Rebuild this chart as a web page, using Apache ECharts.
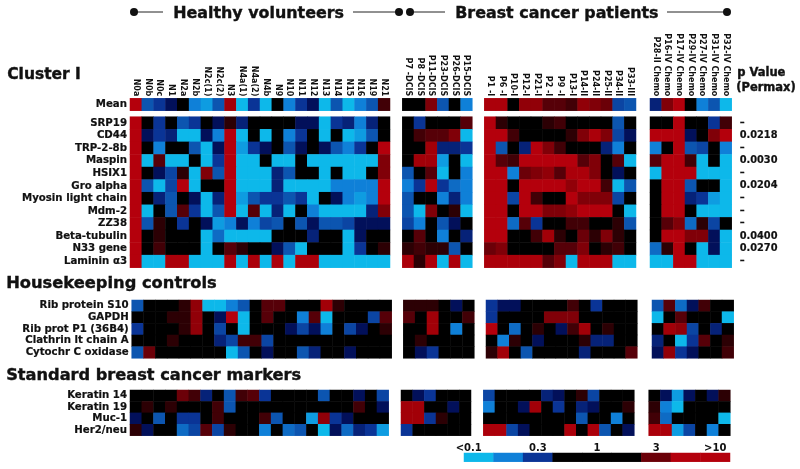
<!DOCTYPE html>
<html><head><meta charset="utf-8">
<style>html,body{margin:0;padding:0;background:#fff}#c{width:800px;height:469px}</style>
<script src="https://cdn.jsdelivr.net/npm/echarts@6/dist/echarts.min.js"></script>
</head><body><div id="c"></div>
<script>
// Colour level of every cell: -5 = <0.1 fold ... 0 = 1 fold ... +5 = >10 fold
const healthyCols = ['N0a','N0b','N0c','N1','N2a','N2b','N2c(1)','N2c(2)','N3','N4a(1)','N4a(2)','N4b','N9','N10','N11','N12','N13','N14','N15','N16','N19','N21'];
const dcisCols = ['P7 -DCIS','P8 -DCIS','P11-DCIS','P23-DCIS','P26-DCIS','P15-DCIS'];
const stageCols = ['P1 -I','P6 -I','P10-I','P12-I','P21-I','P2 -I','P9 -I','P13-I','P14-II','P24-II','P25-II','P34-II','P33-III'];
const chemoCols = ['P28-II Chemo','P16-IV Chemo','P17-IV Chemo','P29-IV Chemo','P27-IV Chemo','P31-IV Chemo','P32-IV Chemo'];

const meanRow = ['Mean'];
const clusterRows = ['SRP19','CD44','TRP-2-8b','Maspin','HSIX1','Gro alpha','Myosin light chain','Mdm-2','ZZ38','Beta-tubulin','N33 gene','Laminin α3'];
const housekeepingRows = ['Rib protein S10','GAPDH','Rib prot P1 (36B4)','Clathrin lt chain A','Cytochr C oxidase'];
const markerRows = ['Keratin 14','Keratin 19','Muc-1','Her2/neu'];
const pValues = ['–','0.0218','–','0.0030','–','0.0204','–','–','–','0.0400','0.0270','–'];

const meanHealthy = [[5,-3,-2,-1,0,-4,-4.5,-3,4,-5,-2,-5,0,-4,-2,-1,-5,-3,-5,-4,-3,1.5]];
const meanDcis = [[0,0,3,-3,0,-4]];
const meanStage = [[4.5,4.5,0,3.5,3.5,2,2,1.5,3.5,3,2.5,-2.5,-3]];
const meanChemo = [[-1.5,3,5,0,-4,-3,-5]];

const clusterHealthy = [
[5,0,-2,0,-3,-2,0,-1,1,-1.5,0,0,0,0,-1,-1,-5,-2,-1.5,-4,-1.5,0],
[5,-1,-2,-1.5,-5,-5,-1,-4,5,-5,0,-5,0,-4,-2,0,-5,0,-5,-4.5,-3,0],
[5,0,-4,0,0,-3,-5,-1,5,-4.5,-2,-1,0,-3,-1,0,-1,-3,-4,-2,0,5],
[5,-5,2,-5,-5,0,-5,-2,5,-5,-5,0,-5,-5,0,-5,-5,-5,-5,-5,-5,3],
[5,0,-1,-2.5,1,-5,3,-3,5,-5,-5,-5,-1.5,-3,0,0,-5,0,-5,-5,0,3],
[5,-3,-5,-2.5,5,-5,0,0,5,-5,-5,-5,-1.5,-5,-5,-5,-5,-4,-4,-4,-4,5],
[5,0,-1.5,-3,0,-1,-5,-1.5,5,-4.5,-3,-2,-2,-3,-2,-5,0,-1,-4,-4.5,-4,5],
[5,-5,0,-3,2,-2,-5,-3,5,-5,2,-5,-1.5,-5,0,-4,-5,-5,-5,-5,-1.5,3],
[5,-3,1,0,-2,0,-1,-4.5,-4,-1,-4,-2.5,-3,0,-3,-1,-3,-3,-2.5,-1,-1,-1],
[5,0,1,0,0,0,-5,-3.5,-5,-5,-5,-5,0,0,0,-1.5,0,0,-5,-1,0,0],
[5,0,1.5,0,0,0,-5,0,2,1,0,0,-1,-3,-5,0,0,0,-5,-2,0,1],
[5,-5,-5,4.5,4.5,-5,-5,-5,4.5,-5,4.5,-5,4.5,-5,4.5,4.5,-5,-5,-5,-5,-5,-5]];
const clusterDcis = [
[0,-2,0,0,0,2],
[0,1.5,2,2,3,-5],
[0,0,4,-1.5,-1.5,-2],
[0,4,4,-4.5,0,-5],
[-3,0,2,-5,0,-4],
[-4,-2,5,-2,-3.5,-4],
[-3,0,0,-4,-1.5,-4],
[-3,-5,3,0,1,-5],
[-2.5,-4,0,-3,-1,0],
[0,2,0,-4,0,-1.5],
[1,1.5,1,1,-3,0],
[4.5,1,4.5,-5,4.5,-5]];
const clusterStage = [
[5,1,0,0,0,1,1.5,0,0,0,0,-3,0],
[5,5,1.5,0,0,0,0,1,3,4.5,3,-2.5,-1],
[5,-3,0,-1.5,5,3,1.5,0,0,0,-1.5,-4,0],
[5,2,1.5,5,5,5,5,5,2,3,0,2,-5],
[5,5,-4,2.5,3,3.5,2,4.5,4.5,3,0,-1,0],
[5,5,0,5,5,5,5,3.5,5,5,1.5,-5,-3],
[5,5,-2.5,5,1.5,0,0,5,3,3,3,-2.5,0],
[5,5,0,5,5,3,3,3.5,5,5,5,0,-5],
[5,5,-3.5,2,-2,0,0,1.5,1.5,0,0,1,-3],
[5,5,0,0,1.5,4,1,0,2.5,1,3,1,0],
[2.5,3,0,0,0,0,2,2,3,0,1,1.5,0],
[4.5,4.5,4.5,4.5,4.5,2,3,-5,4.5,4.5,4.5,-5,-5]];
const clusterChemo = [
[0,0,5,0,0,-2,1.5],
[5,5,5,-1,0,3,5],
[-4,0,5,-3,-2.5,0,-4],
[2,5,5,1.5,-5,0,-5],
[-5,5,5,5,-5,-5,-5],
[0,5,5,-3,0,0,-5],
[0,5,5,-1.5,-2,-4.5,-5],
[0,5,5,0,-5,-5,-5],
[0,2,3,-3.5,1,-2.5,0],
[0,5,5,3,3,-1,-5],
[-3.5,1,5,0,-5,-1,-5],
[-5,-5,5,5,-5,-5,-5]];

const hkHealthy = [
[-3,0,0,0,1,3.5,-5,-5,-4,-3,0,2,2,0,0,0,4,1,0,0,0,0],
[0,0,0,1,1,3.5,0,-1,5,-5,0,2,0,0,-4,2,-5,0,0,0,-2.5,2],
[-2,0,0,0,1,3.5,0,-2.5,0,-5,0,0,0,-1,-2.5,-1,-4,0,-2.5,-1,0,1],
[0,0,0,1,0,0,0,-1.5,-2.5,1.5,1.5,-2.5,0,0,0,0,0,0,0,0,0,0],
[-3,2.5,0,0,0,0,0,0,-5,-3,0,-1,0,0,-3,-1.5,0,0,-1,0,0,0]];
const hkDcis = [
[1,1,1,0,-1,0],
[2,0,4,0,0,1.5],
[0,0,4,0,-4,0],
[0,1,0,0,0,0],
[0,-1,-2,0,0,0]];
const hkStage = [
[-2,-1,-1,0,0,0,0,1.5,0,-2,0,0,0],
[-2,0,0,0,0,3,3,3,0,0,0,0,0],
[5,0,-3.5,0,1,0,-1,1.5,4,0,1,0,0],
[0,-4,1,0,-1,0,0,0,1,-1.5,-1.5,0,0],
[1,4,0,-3,0,0,0,0,-1.5,0,0,0,2]];
const hkChemo = [
[-3,2,-3.5,-1,1.5,0,0],
[-5,0,2,0,0,0,-5],
[0,4,3.5,-2.5,0,-1.5,0],
[-1.5,0,-5,-2,2,0,1],
[-1,3.5,-2,-1,0,0,1.5]];

const markerHealthy = [
[0,0,0,0,2.5,1.5,-1.5,0,-3,1.5,2,-2,0,0,0,0,-3,0,0,-1,0,-2.5],
[0,1,0,1,0,0,0,1.5,-3,0,0,0,0,0,0,0,0,0,0,1.5,0,-1],
[-1,0,-3,0,-2,-2,0,1.5,0,0,0,1.5,-3,0,0,-4.5,3.5,-2,-1,0,0,0],
[1,-1,0,0,-3.5,-2.5,2,-2.5,1,0,0,-4,0,-3.5,-3,0,-5,-1,-3.5,-1.5,-2,-4.5]];
const markerDcis = [
[0,-1,-2,0,0,0],
[4,4,0,0,-1,0],
[4,4,-2,1,0,0],
[-2,0,0,0,0,0]];
const markerStage = [
[-2.5,0,0,0,0,-1.5,-1,0,1,-2.5,0,0,0],
[-4,0,0,-1,4,0,-2,0,-1.5,-1,0,0,1],
[0,0,0,0,0,0,0,0,-3,0,0,-4,0],
[4.5,4.5,-2.5,-1,0,0,0,4.5,0,4.5,-3,0,-1]];
const markerChemo = [
[0,-1,-4.5,-1,0,-1,1],
[1,-4,-5,0,0,0,0],
[1.5,-3.5,0,0,0,0,-5],
[4.5,4.5,-4.5,-2.5,0,-4,0]];

const legendLabels = ['<0.1','','0.3','','1','','3','','>10'];
const legendLevels = [[-5,-4,-2,0,0,0,2.5,5,5]];

const levelColors = ['#0DB8EA','#0F80D8','#0C55B0','#0A3496','#02105A','#000000','#2C0004','#560008','#800008','#A20008','#B4000C'];

const FONT = '"DejaVu Sans", sans-serif';
const grids=[], xAxes=[], yAxes=[], series=[];
function block(o){
  const i=grids.length;
  grids.push({left:o.x,top:o.y,width:o.w,height:o.h,containLabel:false});
  const colLabel = o.colLabels ? {show:true,interval:0,rotate:o.rotate===undefined?90:o.rotate,margin:o.colMargin===undefined?2:o.colMargin,
      fontFamily:FONT,fontWeight:'bold',fontSize:o.colSize||8,color:'#111'} : {show:false};
  if(o.colRich){ colLabel.formatter=o.colRich.formatter; colLabel.rich=o.colRich.rich; }
  xAxes.push({type:'category',gridIndex:i,data:o.cols,position:'top',
    axisLine:{show:false},axisTick:{show:false},splitLine:{show:false},axisLabel:colLabel});
  yAxes.push({type:'category',gridIndex:i,inverse:true,data:o.rows,position:o.right?'right':'left',
    axisLine:{show:false},axisTick:{show:false},splitLine:{show:false},
    axisLabel:o.rowLabels?{show:true,interval:0,margin:o.right?8:3,
      fontFamily:FONT,fontWeight:'bold',fontSize:o.right?9.8:10.2,color:'#111',
      textBorderColor:'#111',textBorderWidth:0.2}:{show:false}});
  const d=[];
  o.values.forEach((r,y)=>r.forEach((v,x)=>d.push([x,y,v])));
  series.push({type:'heatmap',xAxisIndex:i,yAxisIndex:i,data:d,animation:false,
    itemStyle:{borderWidth:0},emphasis:{disabled:true},silent:true});
}
// Mean row
block({x:130,y:98.3,w:260,h:12.4,cols:healthyCols,rows:meanRow,values:meanHealthy,colLabels:true,rowLabels:true});
block({x:402.3,y:98.3,w:70,h:12.4,cols:dcisCols,rows:meanRow,values:meanDcis,colLabels:true});
block({x:484.3,y:98.3,w:151.7,h:12.4,cols:stageCols,rows:meanRow,values:meanStage,colLabels:true});
block({x:650,y:98.3,w:81.7,h:12.4,cols:chemoCols,rows:meanRow,values:meanChemo,colLabels:true});
// Cluster I
block({x:130,y:116.7,w:260,h:151,cols:healthyCols,rows:clusterRows,values:clusterHealthy,rowLabels:true});
block({x:402.3,y:116.7,w:70,h:151,cols:dcisCols,rows:clusterRows,values:clusterDcis});
block({x:484.3,y:116.7,w:151.7,h:151,cols:stageCols,rows:clusterRows,values:clusterStage});
block({x:650,y:116.7,w:81.7,h:151,cols:chemoCols,rows:pValues,values:clusterChemo,rowLabels:true,right:true});
// Housekeeping
block({x:131.7,y:300,w:260,h:58.3,cols:healthyCols,rows:housekeepingRows,values:hkHealthy,rowLabels:true});
block({x:403.3,y:300,w:71,h:58.3,cols:dcisCols,rows:housekeepingRows,values:hkDcis});
block({x:486,y:300,w:151.3,h:58.3,cols:stageCols,rows:housekeepingRows,values:hkStage});
block({x:652,y:300,w:81.7,h:58.3,cols:chemoCols,rows:housekeepingRows,values:hkChemo});
// Standard markers
block({x:130,y:390,w:258.7,h:45.7,cols:healthyCols,rows:markerRows,values:markerHealthy,rowLabels:true});
block({x:401,y:390,w:70,h:45.7,cols:dcisCols,rows:markerRows,values:markerDcis});
block({x:483.3,y:390,w:151,h:45.7,cols:stageCols,rows:markerRows,values:markerStage});
block({x:648.7,y:390,w:81.6,h:45.7,cols:chemoCols,rows:markerRows,values:markerChemo});
// Colour key
block({x:464,y:453,w:266,h:8.7,cols:legendLabels,rows:['key'],values:legendLevels,colLabels:true,rotate:0,colSize:10,colMargin:0,
  colRich:{formatter:(v,i)=>i===0?'{first|'+v+'}':v,
    rich:{first:{padding:[0,20,0,0],fontFamily:FONT,fontWeight:'bold',fontSize:10,color:'#111'}}}});

function txt(s,x,y,size){return {type:'text',left:x,top:y,silent:true,
  style:{text:s,fontFamily:FONT,fontWeight:'bold',fontSize:size,fill:'#111',stroke:'#111',lineWidth:0.4}};}
function seg(x1,x2){return {type:'line',silent:true,shape:{x1:x1,y1:12,x2:x2,y2:12},style:{stroke:'#222',lineWidth:1}};}
function dot(x){return {type:'circle',silent:true,shape:{cx:x,cy:12,r:4},style:{fill:'#111'}};}
const graphics=[
  txt('Healthy volunteers',173,6,15.9),
  txt('Breast cancer patients',455,6,15.9),
  txt('Cluster I',7,67,15.5),
  txt('Housekeeping controls',6,276,16.3),
  txt('Standard breast cancer markers',6,368,16.2),
  txt('p Value',737,67,11.5),
  txt('(Permax)',736,82,11.5),
  seg(134,163),seg(353,399),seg(410,445),seg(667,727),
  dot(134),dot(399),dot(410),dot(727)
];

const chart=echarts.init(document.getElementById('c'),null,{renderer:'canvas'});
chart.setOption({animation:false,backgroundColor:'#fff',
  grid:grids,xAxis:xAxes,yAxis:yAxes,series:series,
  visualMap:{type:'continuous',show:false,min:-5,max:5,dimension:2,
    seriesIndex:series.map((_,i)=>i),inRange:{color:levelColors}},
  graphic:graphics});
</script></body></html>
